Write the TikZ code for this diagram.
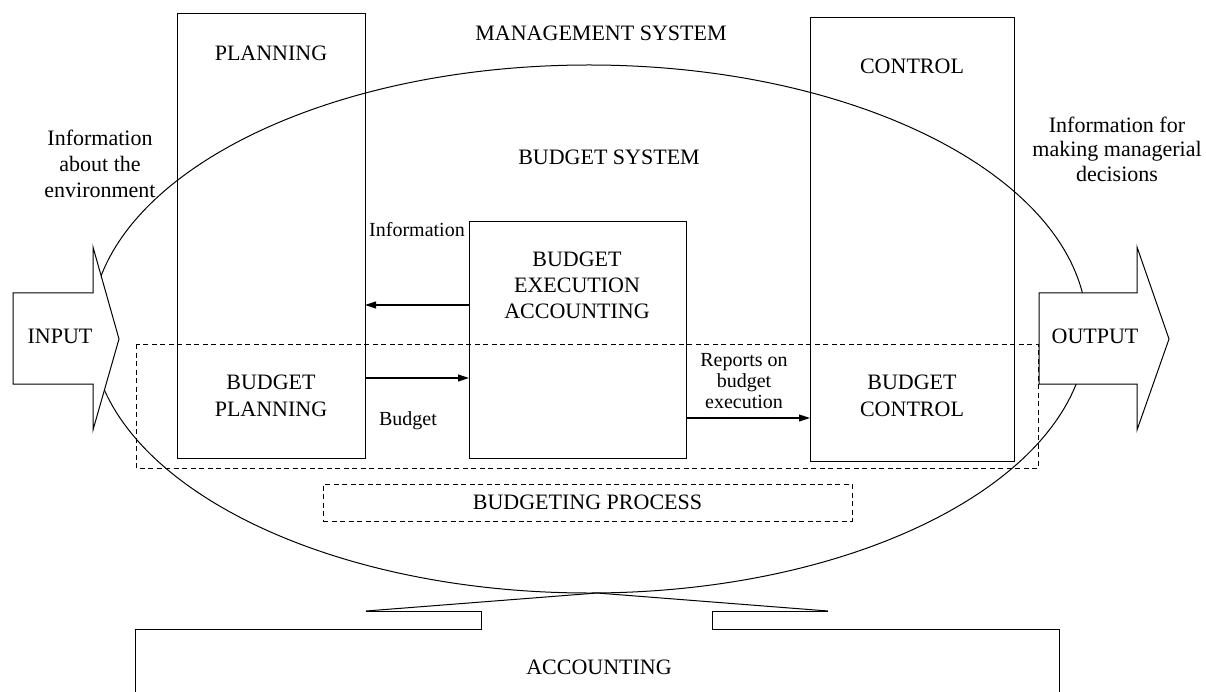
\documentclass[tikz,border=0pt]{standalone}
\usepackage{fontspec}
\setmainfont{Liberation Serif}
\usetikzlibrary{arrows.meta}
\begin{document}
\begin{tikzpicture}[x=1pt,y=-1pt,line width=1pt,
  box/.style={draw, inner sep=0pt, outer sep=0pt, anchor=north west},
  captxt/.style={font=\fontsize{22}{26}\selectfont, align=center, inner sep=0pt},
  labtxt/.style={font=\fontsize{20}{21}\selectfont, align=center, inner sep=0pt},
  dsh/.style={draw, dash pattern=on 5pt off 3.5pt, line width=0.9pt},
  arr/.style={-{Triangle[length=11pt,width=7pt]}, line width=1.1pt}]
\useasboundingbox (0,0) rectangle (1206,692);
% management system ellipse
\draw (589,329) ellipse [x radius=498, y radius=264];
% main boxes
\node[box, minimum width=188pt, minimum height=444pt] (plan) at (177,14) {};
\node[box, minimum width=204pt, minimum height=443pt] (ctrl) at (810,18) {};
\node[box, minimum width=217pt, minimum height=236pt] (bea) at (469,222) {};
% budgeting process dashed frames
\draw[dsh] (136,344) rectangle (1038,468);
\node[dsh, captxt, minimum width=529pt, minimum height=37pt] (bp) at (587.5,502.5) {BUDGETING PROCESS};
% connectors
\draw[arr] (bea.west |- 0,305) -- (plan.east |- 0,305);
\draw[arr] (plan.east |- 0,378) -- (bea.west |- 0,378);
\draw[arr] (bea.east |- 0,418) -- (ctrl.west |- 0,418);
% input / output arrows
\draw[fill=white] (13,293) -- (93,293) -- (93,247) -- (119,339) -- (93,430) -- (93,384) -- (13,384) -- cycle;
\draw[fill=white] (1039,293) -- (1137,293) -- (1137,247) -- (1169,339) -- (1137,430) -- (1137,384) -- (1039,384) -- cycle;
% accounting base
\draw (366,611) -- (597,593) -- (828,611);
\draw (366,611) -- (481.5,611) -- (481.5,629) -- (135,629) -- (135,692);
\draw (828,611) -- (712,611) -- (712,629) -- (1059,629) -- (1059,692);
% texts
\node[captxt] (ms) at (601,33) {MANAGEMENT SYSTEM};
\node[captxt] (bs) at (609,157) {BUDGET SYSTEM};
\node[captxt] (tplan) at (271,53) {PLANNING};
\node[captxt] (tctrl) at (912,66) {CONTROL};
\node[captxt] (env) at (100,164) {Information\\about the\\environment};
\node[captxt, font=\fontsize{22}{24.5}\selectfont] (dec) at (1117,149) {Information for\\making managerial\\decisions};
\node[captxt] (tbea) at (577,285) {BUDGET\\EXECUTION\\ACCOUNTING};
\node[captxt, font=\fontsize{22}{27}\selectfont] (tbp) at (271,396) {BUDGET\\PLANNING};
\node[captxt, font=\fontsize{22}{27}\selectfont] (tbc) at (912,396) {BUDGET\\CONTROL};
\node[captxt] (tin) at (60,336) {INPUT};
\node[captxt] (tout) at (1095,336) {OUTPUT};
\node[labtxt] (linfo) at (417,230) {Information};
\node[labtxt] (lbud) at (408,421) {Budget};
\node[labtxt] (lrep) at (744,381) {Reports on\\budget\\execution};
\node[captxt] (tacc) at (599,667) {ACCOUNTING};
\end{tikzpicture}
\end{document}
